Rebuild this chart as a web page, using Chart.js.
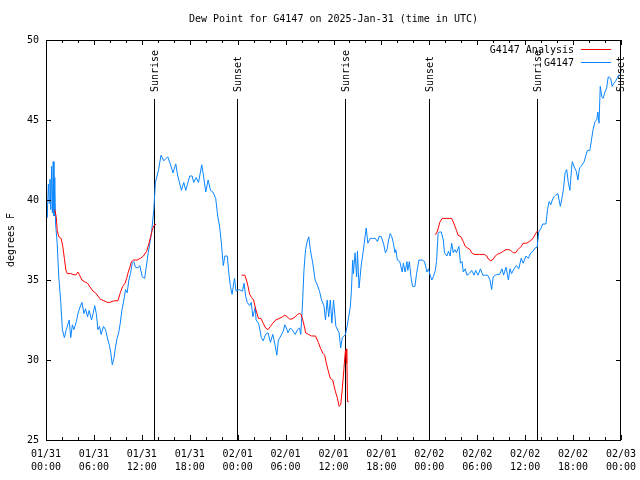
<!DOCTYPE html>
<html>
<head>
<meta charset="utf-8">
<script src="https://cdn.jsdelivr.net/npm/chart.js@4"></script>
<style>
  html, body { margin: 0; padding: 0; background: #fff; }
</style>
</head>
<body>
<canvas id="grafico" width="640" height="480"></canvas>
<script>
const titulo = 'Dew Point for G4147 on 2025-Jan-31 (time in UTC)';
const yTitulo = 'degrees F';

const xTickLabels = [
  ['01/31', '00:00'], ['01/31', '06:00'], ['01/31', '12:00'], ['01/31', '18:00'],
  ['02/01', '00:00'], ['02/01', '06:00'], ['02/01', '12:00'], ['02/01', '18:00'],
  ['02/02', '00:00'], ['02/02', '06:00'], ['02/02', '12:00'], ['02/02', '18:00'],
  ['02/03', '00:00']
];

// hours since 01/31 00:00 UTC
const obsHoras = [
  0.00, 0.15, 0.30, 0.40, 0.50, 0.60, 0.70, 0.80, 0.90, 1.00, 1.10, 1.20, 1.40, 1.60, 1.85, 2.05,
  2.30, 2.54, 2.90, 3.10, 3.30, 3.50, 3.80, 4.00, 4.25, 4.50, 4.75, 4.95, 5.20, 5.40, 5.70, 5.90,
  6.10, 6.30, 6.50, 6.70, 6.90, 7.20, 7.45, 7.75, 7.95, 8.10, 8.30, 8.50, 8.70, 8.90, 9.10, 9.30,
  9.50, 9.75, 9.96, 10.16, 10.38, 10.58, 10.80, 11.00, 11.20, 11.50, 11.75, 12.05, 12.35, 12.80,
  13.20, 13.50, 13.70, 13.90, 14.10, 14.40, 14.75, 15.25, 15.60, 15.90, 16.25, 16.50, 16.96, 17.25,
  17.50, 18.00, 18.30, 18.50, 18.80, 19.10, 19.50, 19.70, 20.00, 20.30, 20.60, 20.90, 21.25, 21.50,
  21.75, 21.96, 22.20, 22.40, 22.70, 22.90, 23.10, 23.30, 23.60, 23.80, 24.20, 24.60, 24.80, 25.00,
  25.20, 25.50, 25.70, 25.90, 26.20, 26.30, 26.60, 26.75, 26.96, 27.20, 27.50, 27.80, 28.10, 28.40,
  28.70, 28.90, 29.10, 29.40, 29.70, 29.90, 30.10, 30.30, 30.60, 30.80, 31.20, 31.50, 31.75, 31.90,
  32.10, 32.30, 32.50, 32.70, 32.90, 33.10, 33.40, 33.70, 33.96, 34.25, 34.50, 34.80, 35.00, 35.20,
  35.40, 35.60, 35.80, 36.00, 36.30, 36.70, 36.90, 37.10, 37.30, 37.50, 37.70, 37.90, 38.10, 38.25,
  38.40, 38.50, 38.70, 38.90, 39.00, 39.20, 39.50, 39.70, 39.90, 40.10, 40.30, 40.60, 40.90, 41.25,
  41.50, 41.75, 42.00, 42.30, 42.50, 42.70, 42.90, 43.10, 43.30, 43.50, 43.70, 43.80, 44.00, 44.30,
  44.60, 44.75, 44.96, 45.20, 45.30, 45.50, 45.70, 45.90, 46.20, 46.40, 46.70, 47.10, 47.40, 47.70,
  47.90, 48.10, 48.30, 48.50, 48.75, 48.90, 49.10, 49.25, 49.50, 49.75, 49.90, 50.20, 50.40, 50.60,
  50.80, 51.00, 51.20, 51.40, 51.70, 51.90, 52.10, 52.25, 52.50, 52.70, 53.00, 53.30, 53.60, 53.80,
  54.10, 54.40, 54.70, 55.00, 55.30, 55.60, 55.80, 56.00, 56.25, 56.50, 56.80, 57.10, 57.30, 57.60,
  57.90, 58.10, 58.30, 58.60, 58.90, 59.20, 59.50, 59.75, 60.10, 60.40, 60.70, 61.00, 61.25, 61.50,
  61.70, 61.95, 62.20, 62.60, 62.80, 63.00, 63.20, 63.40, 63.60, 63.80, 64.10, 64.40, 64.60, 64.80,
  65.00, 65.20, 65.40, 65.60, 65.80, 65.90, 66.20, 66.40, 66.60, 66.80, 67.00, 67.40, 67.60, 67.80,
  68.10, 68.30, 68.50, 68.75, 68.96, 69.10, 69.25, 69.40, 69.60, 69.75, 69.96, 70.20, 70.40, 70.70,
  70.90, 71.10, 71.30, 71.50, 71.70, 71.85
];
const obsValores = [
  40.5, 38.9, 41.0, 39.8, 41.3, 39.4, 42.1, 39.2, 42.4, 39.0, 41.4, 38.5, 37.3, 35.2, 33.6, 31.9,
  31.4, 31.9, 32.5, 31.4, 32.2, 31.9, 32.4, 32.9, 33.3, 33.6, 32.9, 33.2, 32.7, 33.1, 32.5, 32.9,
  33.4, 32.9, 31.9, 32.1, 31.6, 32.1, 31.9, 31.25, 30.9, 30.5, 29.7, 30.1, 30.8, 31.35, 31.7, 32.3,
  33.1, 33.75, 34.4, 34.2, 35.0, 35.4, 36.05, 36.15, 35.8, 35.75, 35.9, 35.2, 35.1, 36.7,
  37.9, 39.4, 41.1, 41.5, 41.9, 42.8, 42.45, 42.7, 42.2, 41.7, 42.25, 41.5, 40.6, 41.1,
  40.6, 41.5, 41.5, 41.1, 41.4, 41.1, 42.2, 41.6, 40.5, 41.25, 40.6, 40.5, 40.1, 39.0,
  38.3, 37.3, 35.9, 36.5, 36.5, 35.4, 34.6, 34.1, 35.1, 34.3, 34.4, 34.3, 34.8, 34.0,
  33.6, 33.4, 33.6, 32.7, 33.3, 32.5, 32.3, 32.0, 31.4, 31.2, 31.6, 31.7, 31.1, 31.6,
  30.9, 30.3, 31.25, 31.5, 31.8, 32.2, 32.0, 31.7, 32.0, 31.9, 31.6, 31.9, 32.0, 31.6,
  33.3, 35.6, 36.9, 37.4, 37.7, 36.9, 36.05, 35.0, 34.7, 34.3, 33.75, 33.4, 32.5, 33.75,
  32.7, 33.75, 32.3, 33.75, 32.1, 31.7, 30.75, 31.4, 31.5, 31.6, 32.1, 32.7, 33.3, 34.4,
  36.25, 35.4, 36.7, 35.2, 36.8, 34.5, 36.05, 36.7, 37.5, 38.25, 37.3, 37.6, 37.6, 37.6,
  37.4, 37.75, 37.7, 37.2, 36.7, 36.9, 37.5, 37.9, 37.7, 37.3, 36.7, 36.9, 36.25, 36.15,
  35.5, 36.05, 35.5, 36.15, 35.6, 36.15, 35.2, 34.6, 34.6, 35.4, 36.25, 36.25, 36.15, 35.5,
  35.7, 35.3, 35.0, 35.2, 35.6, 36.15, 37.9, 38.0, 38.0, 37.5, 36.7, 36.5, 36.8, 36.5,
  37.3, 36.7, 36.9, 36.7, 37.1, 36.05, 36.15, 35.5, 35.7, 35.3, 35.4, 35.6, 35.3, 35.6,
  35.3, 35.7, 35.3, 35.3, 35.3, 35.0, 34.4, 35.2, 35.3, 35.35, 35.35, 35.7, 35.3, 35.8,
  35.0, 35.7, 35.4, 35.7, 35.9, 35.7, 36.35, 36.05, 36.5, 36.35, 36.7, 36.8, 37.0, 37.05,
  38.0, 38.2, 38.5, 38.5, 39.4, 39.9, 39.7, 40.0, 40.2, 40.3, 40.4, 39.6, 40.1, 40.7,
  41.7, 41.9, 41.1, 40.6, 41.9, 42.4, 42.0, 41.8, 41.25, 42.0, 42.1, 42.4, 42.8, 43.1,
  43.1, 43.75, 44.4, 44.9, 45.0, 45.5, 44.8, 47.1, 46.45, 46.35, 46.7, 47.0, 47.7, 47.6,
  47.1, 47.3, 47.4, 47.6, 47.8, 47.8
];

// analysis: null marks a break in the line
const anaHoras = [
  1.10, 1.30, 1.40, 1.60, 1.90, 2.10, 2.30, 2.50, 2.66, 3.10, 3.70, 4.00, 4.20, 4.50, 4.80, 5.20,
  5.60, 5.90, 6.20, 6.50, 6.80, 7.25, 7.70, 8.00, 8.50, 9.00, 9.30, 9.60, 9.90, 10.10, 10.30, 10.50,
  10.70, 11.00, 11.40, 11.80, 12.20, 12.60, 12.90, 13.10, 13.30, 13.50, 13.80, 14.00,
  24.50, 24.90, 25.10, 25.30, 25.50, 25.75, 26.00, 26.25, 26.60, 26.90, 27.20, 27.50, 27.80, 28.10,
  28.40, 28.75, 29.20, 29.60, 29.90, 30.20, 30.50, 30.80, 31.20, 31.50, 31.75, 31.95, 32.15, 32.40,
  32.50, 32.85, 33.25, 33.75, 34.10, 34.40, 34.70, 34.90, 35.10, 35.30, 35.60, 35.90, 36.20, 36.50,
  36.70, 36.90, 37.10, 37.30, 37.40, 37.50, 37.60, 37.66, 37.75, 37.90, 38.00,
  48.70, 48.90, 49.10, 49.30, 49.60, 50.10, 50.60, 50.80, 51.10, 51.40, 51.60, 51.96, 52.25, 52.50,
  52.80, 53.10, 53.30, 53.60, 54.25, 54.90, 55.20, 55.40, 55.70, 56.00, 56.25, 56.50, 56.96, 57.25,
  57.60, 57.90, 58.20, 58.50, 58.80, 59.10, 59.50, 59.75, 60.20, 60.50, 60.80, 61.10, 61.30, 61.50,
  61.60
];
const anaValores = [
  39.4, 38.9, 38.1, 37.7, 37.6, 37.1, 36.35, 35.6, 35.4, 35.4, 35.3, 35.5, 35.3, 35.0, 34.9, 34.8,
  34.5, 34.3, 34.2, 34.0, 33.8, 33.7, 33.6, 33.6, 33.7, 33.7, 34.2, 34.6, 34.8, 35.1, 35.5, 35.8,
  36.15, 36.25, 36.25, 36.35, 36.5, 36.8, 37.3, 37.7, 38.1, 38.4, 38.5, null,
  35.3, 35.3, 35.0, 34.6, 34.1, 33.9, 33.75, 33.2, 32.6, 32.6, 32.3, 32.0, 31.9, 32.1,
  32.3, 32.5, 32.6, 32.7, 32.8, 32.7, 32.56, 32.56, 32.7, 32.85, 32.9, 32.85, 32.5, 32.0,
  31.7, 31.6, 31.5, 31.5, 31.1, 30.7, 30.4, 30.3, 29.8, 29.4, 28.85, 28.75, 28.1, 27.6,
  27.1, 27.2, 28.2, 29.4, 30.1, 30.6, 29.8, 30.7, 27.4, 27.4, null,
  37.85, 37.9, 38.2, 38.6, 38.85, 38.85, 38.85, 38.85, 38.5, 38.1, 37.8, 37.7, 37.4, 37.1,
  37.0, 36.9, 36.7, 36.6, 36.6, 36.6, 36.5, 36.3, 36.2, 36.3, 36.5, 36.6, 36.7, 36.8,
  36.9, 36.9, 36.85, 36.7, 36.7, 36.9, 37.1, 37.3, 37.3, 37.4, 37.5, 37.7, 37.9, 38.05,
  38.1
];

const eventoHoras = [13.5, 23.9, 37.45, 47.9, 61.45, 71.85];
const eventoNomes = ['Sunrise', 'Sunset', 'Sunrise', 'Sunset', 'Sunrise', 'Sunset'];

const FONTE = '10px "DejaVu Sans Mono", "Liberation Mono", monospace';
const AZUL = '#0a85ff';
const VERMELHO = '#ff0000';

const extras = {
  id: 'extras',
  beforeDatasetsDraw(chart) {
    const { ctx, chartArea: a, scales: { x } } = chart;
    ctx.save();
    ctx.strokeStyle = '#000';
    ctx.fillStyle = '#000';
    ctx.lineWidth = 1;
    ctx.font = FONTE;
    eventoHoras.forEach((h, i) => {
      const px = Math.round(x.getPixelForValue(h)) + 0.5;
      ctx.beginPath();
      ctx.moveTo(px, 99);
      ctx.lineTo(px, a.bottom);
      ctx.stroke();
      ctx.save();
      ctx.translate(px + 1, 92);
      ctx.rotate(-Math.PI / 2);
      ctx.textAlign = 'left';
      ctx.textBaseline = 'middle';
      ctx.fillText(eventoNomes[i], 0, 0);
      ctx.restore();
    });
    ctx.restore();
  },
  afterDraw(chart) {
    const { ctx, chartArea: a, scales: { x, y } } = chart;
    ctx.save();
    ctx.strokeStyle = '#000';
    ctx.fillStyle = '#000';
    ctx.lineWidth = 1;
    ctx.strokeRect(a.left + 0.5, a.top + 0.5, a.right - a.left - 1, a.bottom - a.top);

    // inward tick marks
    ctx.beginPath();
    for (let h = 0; h <= 72; h += 2) {
      const px = Math.round(x.getPixelForValue(h)) + 0.5;
      const len = h % 6 === 0 ? 5 : 3;
      ctx.moveTo(px, a.bottom);
      ctx.lineTo(px, a.bottom - len);
      ctx.moveTo(px, a.top);
      ctx.lineTo(px, a.top + len);
    }
    for (let v = 25; v <= 50; v += 5) {
      const py = Math.round(y.getPixelForValue(v)) + 0.5;
      ctx.moveTo(a.left, py);
      ctx.lineTo(a.left + 5, py);
      ctx.moveTo(a.right, py);
      ctx.lineTo(a.right - 5, py);
    }
    ctx.stroke();

    ctx.font = FONTE;
    ctx.textAlign = 'center';
    ctx.textBaseline = 'middle';
    ctx.fillText(titulo, (a.left + a.right) / 2, 19);

    ctx.save();
    ctx.translate(11, (a.top + a.bottom) / 2);
    ctx.rotate(-Math.PI / 2);
    ctx.fillText(yTitulo, 0, 0);
    ctx.restore();

    // legend
    ctx.textAlign = 'right';
    chart.data.datasets.forEach((ds, i) => {
      const ly = 50 + i * 13;
      ctx.fillStyle = '#000';
      ctx.fillText(ds.label, 574, ly);
      ctx.strokeStyle = ds.borderColor;
      ctx.beginPath();
      ctx.moveTo(581, ly - 0.5);
      ctx.lineTo(611, ly - 0.5);
      ctx.stroke();
    });
    ctx.restore();
  }
};

new Chart(document.getElementById('grafico'), {
  type: 'line',
  data: {
    datasets: [{
      label: 'G4147 Analysis',
      data: anaHoras.map((h, i) => ({ x: h, y: anaValores[i] })),
      borderColor: VERMELHO,
      borderWidth: 1,
      pointRadius: 0,
      tension: 0,
      spanGaps: false
    }, {
      label: 'G4147',
      data: obsHoras.map((h, i) => ({ x: h, y: obsValores[i] })),
      borderColor: AZUL,
      borderWidth: 1,
      pointRadius: 0,
      tension: 0
    }]
  },
  plugins: [extras],
  options: {
    responsive: false,
    animation: false,
    devicePixelRatio: 1,
    layout: { padding: { left: 0, right: 19, top: 40, bottom: 0 } },
    plugins: {
      legend: { display: false },
      title: { display: false },
      tooltip: { enabled: false }
    },
    scales: {
      x: {
        type: 'linear',
        min: 0,
        max: 72,
        afterFit: s => { s.height = 40; s.paddingLeft = 0; s.paddingRight = 0; },
        grid: { display: false, drawTicks: false },
        border: { display: false },
        ticks: {
          stepSize: 6,
          autoSkip: false,
          maxRotation: 0,
          padding: 8,
          color: '#000',
          font: { family: '"DejaVu Sans Mono", monospace', size: 10, lineHeight: 1.3 },
          callback: (v, i) => xTickLabels[i]
        }
      },
      y: {
        min: 25,
        max: 50,
        afterFit: s => { s.width = 46; s.paddingTop = 0; s.paddingBottom = 0; },
        grid: { display: false, drawTicks: false },
        border: { display: false },
        ticks: {
          stepSize: 5,
          padding: 7,
          color: '#000',
          font: { family: '"DejaVu Sans Mono", monospace', size: 10 }
        }
      }
    }
  }
});
</script>
</body>
</html>
